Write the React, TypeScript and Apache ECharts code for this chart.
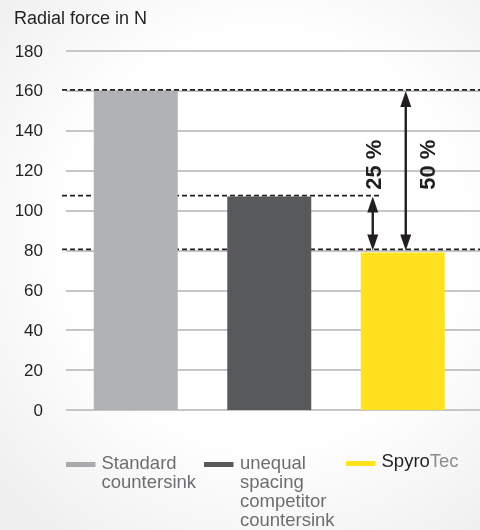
import React, { useEffect, useRef } from 'react';
import * as echarts from 'echarts';

// ---- data ----
const categories = ['Standard countersink', 'unequal spacing competitor countersink', 'SpyroTec'];
const legendLabels = ['Standard\ncountersink', 'unequal\nspacing\ncompetitor\ncountersink', '{a|Spyro}{b|Tec}'];
const values = [160, 107, 79];
const barColors = ['#b1b2b5', '#58595b', '#ffe11f'];
const legendColors = ['#a9aaad', '#58595b', '#ffe31f'];
const yMin = 0;
const yMax = 180;
const yStep = 20;
const referenceLevels = [160, 107, 80];
const reductionLabels = ['25 %', '50 %'];
const reductionFrom = [107, 160];
const reductionTo = [80, 80];
const titleText = 'Radial force in N';

const FONT = '"Liberation Sans", Arial, Helvetica, sans-serif';
const INK = '#231f20';

export default function App() {
  const ref = useRef<HTMLDivElement>(null);

  useEffect(() => {
    if (!ref.current) return;
    const chart = echarts.init(ref.current, undefined, { renderer: 'svg' });

    const arrowOffsets = [-30, 3];
    const textOffsets = [1, 22];
    const spyroIndex = 2;

    const legendIconX = [66, 204, 346];
    const legendTextX = [101.5, 240, 381.5];

    const legendGraphics: any[] = [];
    categories.forEach((_, i) => {
      legendGraphics.push({
        type: 'rect',
        left: legendIconX[i],
        top: i === 2 ? 461 : 462,
        shape: { width: 29.5, height: 5 },
        style: { fill: legendColors[i] },
      });
      const isRich = i === 2;
      legendGraphics.push({
        type: 'text',
        x: legendTextX[i],
        y: isRich ? 451 : 452.5,
        style: {
          text: legendLabels[i],
          fontFamily: FONT,
          fontSize: 18.5,
          lineHeight: 19,
          fill: '#6d6e71',
          verticalAlign: 'top',
          align: 'left',
          rich: isRich
            ? {
                a: { fill: INK, fontSize: 18.5, fontFamily: FONT, lineHeight: 19 },
                b: { fill: '#8b8c8f', fontSize: 18.5, fontFamily: FONT, lineHeight: 19 },
              }
            : undefined,
        },
      });
    });

    const option: any = {
      animation: false,
      backgroundColor: 'transparent',
      textStyle: { fontFamily: FONT },
      grid: [
        { left: 66, right: 0, top: 51, bottom: 120, containLabel: false },
        { left: 69, right: 10.5, top: 51, bottom: 120, containLabel: false },
      ],
      xAxis: [
        { type: 'category', gridIndex: 0, data: categories, show: false },
        { type: 'category', gridIndex: 1, data: categories, show: false },
      ],
      yAxis: [
        {
          type: 'value',
          gridIndex: 0,
          min: yMin,
          max: yMax,
          interval: yStep,
          axisLine: { show: false },
          axisTick: { show: false },
          axisLabel: { color: INK, fontSize: 17, fontFamily: FONT, margin: 23 },
          splitLine: { show: true, lineStyle: { color: '#c5c6c8', width: 2 } },
        },
        {
          type: 'value',
          gridIndex: 1,
          min: yMin,
          max: yMax,
          interval: yStep,
          show: false,
          splitLine: { show: false },
        },
      ],
      graphic: [
        {
          type: 'text',
          x: 14,
          y: 17.5,
          style: {
            text: titleText,
            fontFamily: FONT,
            fontSize: 18,
            fill: INK,
            verticalAlign: 'middle',
            align: 'left',
          },
        },
        ...legendGraphics,
      ],
      series: [
        {
          type: 'custom',
          name: 'reference',
          xAxisIndex: 1,
          yAxisIndex: 1,
          z: 1,
          clip: false,
          silent: true,
          data: referenceLevels.map((v) => [spyroIndex, v]),
          renderItem: (params: any, api: any) => {
            const v = referenceLevels[params.dataIndex];
            const y = api.coord([spyroIndex, v])[1] - 1;
            const cx = api.coord([spyroIndex, 0])[0];
            const x2 = v === reductionFrom[0] ? cx + arrowOffsets[0] + 9 : api.getWidth();
            return {
              type: 'line',
              shape: { x1: 62, y1: y, x2, y2: y },
              style: { stroke: INK, lineWidth: 1.8, lineDash: [5, 3] },
            };
          },
        },
        {
          type: 'bar',
          xAxisIndex: 1,
          yAxisIndex: 1,
          z: 2,
          barWidth: 84,
          data: values.map((v, i) => ({ value: v, itemStyle: { color: barColors[i] } })),
        },
        {
          type: 'custom',
          name: 'reductions',
          xAxisIndex: 1,
          yAxisIndex: 1,
          z: 3,
          clip: false,
          silent: true,
          data: reductionLabels.map((_, i) => [spyroIndex, reductionFrom[i]]),
          renderItem: (params: any, api: any) => {
            const i = params.dataIndex;
            const cx = api.coord([spyroIndex, 0])[0];
            const x = cx + arrowOffsets[i];
            const yTop = api.coord([spyroIndex, reductionFrom[i]])[1];
            const yBot = api.coord([spyroIndex, reductionTo[i]])[1];
            const textY = api.coord([spyroIndex, 123])[1];
            const hl = 16;
            const hw = 5.5;
            return {
              type: 'group',
              children: [
                {
                  type: 'line',
                  shape: { x1: x, y1: yTop + hl - 2, x2: x, y2: yBot - hl + 2 },
                  style: { stroke: INK, lineWidth: 2.4 },
                },
                {
                  type: 'polygon',
                  shape: { points: [[x, yTop], [x - hw, yTop + hl], [x + hw, yTop + hl]] },
                  style: { fill: INK },
                },
                {
                  type: 'polygon',
                  shape: { points: [[x, yBot], [x - hw, yBot - hl], [x + hw, yBot - hl]] },
                  style: { fill: INK },
                },
                {
                  type: 'text',
                  x: x + textOffsets[i],
                  y: textY,
                  rotation: Math.PI / 2,
                  style: {
                    text: reductionLabels[i],
                    fontFamily: FONT,
                    fontWeight: 'bold',
                    fontSize: 22,
                    fill: INK,
                    align: 'center',
                    verticalAlign: 'middle',
                  },
                },
              ],
            };
          },
        },
      ],
    };

    chart.setOption(option);
    return () => chart.dispose();
  }, []);

  return (
    <div
      style={{
        position: 'fixed',
        left: 0,
        top: 0,
        width: 480,
        height: 530,
        background: 'radial-gradient(ellipse 75% 70% at 55% 45%, #ffffff 55%, #efefef 100%)',
      }}
    >
      <div ref={ref} style={{ width: 480, height: 530 }} />
    </div>
  );
}
